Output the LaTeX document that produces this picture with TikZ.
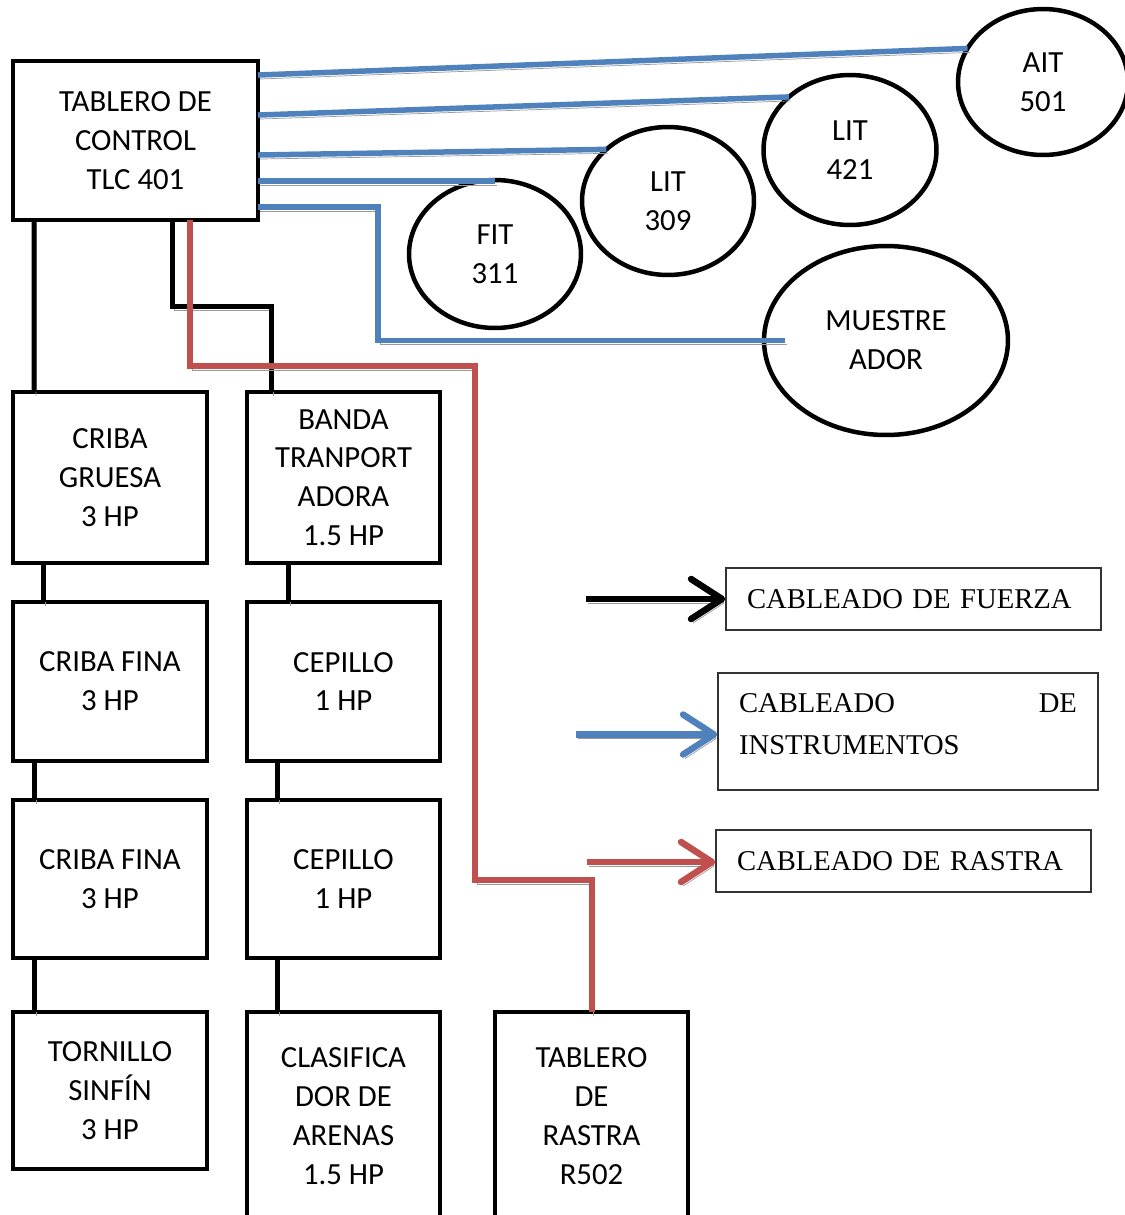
\documentclass[tikz,border=0pt]{standalone}
\usepackage{fontspec}
\setmainfont{Carlito}
\newfontfamily\legendfont{Liberation Serif}
\usetikzlibrary{shapes.geometric,calc,arrows.meta}
\definecolor{instblue}{HTML}{4F81BD}
\definecolor{rastrared}{HTML}{C0504D}
\definecolor{shadowgray}{HTML}{9A9A9A}

\begin{document}
\begin{tikzpicture}[x=0.02cm, y=-0.02cm,
    box/.style={draw, line width=0.09cm, inner sep=0pt, outer sep=0pt, align=center,
        font=\fontsize{17.5}{22.1}\selectfont},
    instr/.style={ellipse, draw, line width=0.09cm, inner sep=0pt, outer sep=0pt, align=center,
        font=\fontsize{17.5}{22.1}\selectfont},
    legend/.style={draw=black!80, line width=0.03cm, inner xsep=0.42cm, inner ysep=0pt, align=left,
        font=\legendfont\fontsize{16.3}{23.8}\selectfont},
    shadowed/.style={preaction={draw=shadowgray, transform canvas={xshift=0.04cm, yshift=-0.08cm}}},
    fuerza/.style={shadowed, draw=black, line width=0.1cm},
    instrum/.style={shadowed, draw=instblue, line width=0.11cm},
    rastra/.style={shadowed, draw=rastrared, line width=0.12cm},
    legarrow/.style={line width=0.13cm, -{Straight Barb[length=0.62cm, width=0.8cm, round]}}]
    \useasboundingbox (0,0) rectangle (1125,1215);

    % tablero principal
    \node[box, minimum width=4.9cm, minimum height=3.18cm] (tlc) at (135.5,140.5) {TABLERO DE\\CONTROL\\TLC 401};

    % instrumentos
    \node[instr, minimum width=3.4cm, minimum height=2.92cm] (ait) at (1043,82) {AIT\\501};
    \node[instr, minimum width=3.46cm, minimum height=3cm] (lit421) at (850,150) {LIT\\421};
    \node[instr, minimum width=3.44cm, minimum height=2.96cm] (lit309) at (668,201) {LIT\\309};
    \node[instr, minimum width=3.44cm, minimum height=2.96cm] (fit) at (495,254) {FIT\\311};
    \node[instr, minimum width=4.88cm, minimum height=3.78cm] (mue) at (886,340.5) {MUESTRE\\ADOR};

    % motores
    \node[box, minimum width=3.88cm, minimum height=3.42cm] (cg) at (110,477.5) {CRIBA\\GRUESA\\3 HP};
    \node[box, minimum width=3.88cm, minimum height=3.18cm] (cf1) at (110,681.5) {CRIBA FINA\\3 HP};
    \node[box, minimum width=3.88cm, minimum height=3.16cm] (cf2) at (110,879) {CRIBA FINA\\3 HP};
    \node[box, minimum width=3.88cm, minimum height=3.14cm] (ts) at (110,1090.5) {TORNILLO\\SINF\'IN\\3 HP};
    \node[box, minimum width=3.86cm, minimum height=3.42cm] (banda) at (343.5,477.5) {BANDA\\TRANPORT\\ADORA\\1.5 HP};
    \node[box, minimum width=3.86cm, minimum height=3.18cm] (cep1) at (343.5,681.5) {CEPILLO\\1 HP};
    \node[box, minimum width=3.86cm, minimum height=3.16cm] (cep2) at (343.5,879) {CEPILLO\\1 HP};
    \node[box, minimum width=3.86cm, minimum height=4.16cm] (clas) at (343.5,1116) {CLASIFICA\\DOR DE\\ARENAS\\1.5 HP};
    \node[box, minimum width=3.86cm, minimum height=4.16cm] (trastra) at (591.5,1116) {TABLERO\\DE\\RASTRA\\R502};

    % cableado de fuerza
    \draw[fuerza] ($(tlc.south west)+(21,0)$) -- ($(cg.north west)+(21,0)$);
    \draw[fuerza] ($(tlc.south west)+(159,0)$) |- ($(banda.north west)+(24,-86)$) -- ($(banda.north west)+(24,0)$);
    \draw[fuerza] ($(cg.south west)+(30,0)$) -- ($(cf1.north west)+(30,0)$);
    \draw[fuerza] ($(cf1.south west)+(21,0)$) -- ($(cf2.north west)+(21,0)$);
    \draw[fuerza] ($(cf2.south west)+(21,0)$) -- ($(ts.north west)+(21,0)$);
    \draw[fuerza] ($(banda.south west)+(41,0)$) -- ($(cep1.north west)+(41,0)$);
    \draw[fuerza] ($(cep1.south west)+(30,0)$) -- ($(cep2.north west)+(30,0)$);
    \draw[fuerza] ($(cep2.south west)+(30,0)$) -- ($(clas.north west)+(30,0)$);

    % cableado de instrumentos
    \draw[instrum] ($(tlc.north east)+(0,14)$) -- (ait.156);
    \draw[instrum] ($(tlc.north east)+(0,54)$) -- (lit421.139);
    \draw[instrum] ($(tlc.north east)+(0,94)$) -- (lit309.140);
    \draw[instrum] ($(tlc.north east)+(0,120)$) coordinate (s) -- (fit.north |- s);
    \draw[instrum] ($(tlc.north east)+(0,146)$) -- ++(120,0) |- ($(mue.west)+(21,0)$);

    % cableado de rastra
    \draw[rastra] ($(tlc.south west)+(177,0)$) -- ++(0,146) -| ++(285,514) -| (trastra.north);

    % leyenda
    \node[legend, text width=6.66cm, minimum height=1.24cm] (lfuerza) at (913.5,599) {CABLEADO DE FUERZA};
    \node[legend, text width=6.76cm, minimum height=2.34cm] (linst) at (908,731.5) {CABLEADO \hfill DE\\INSTRUMENTOS\\[-0.54cm]\mbox{}};
    \node[legend, text width=6.66cm, minimum height=1.24cm] (lrastra) at (903.5,861) {CABLEADO DE RASTRA};

    \draw[fuerza, legarrow] ($(lfuerza.west)+(-139,0)$) -- (lfuerza.west);
    \draw[instrum, legarrow] ($(linst.west)+(-141,3)$) -- ($(linst.west)+(0,3)$);
    \draw[rastra, legarrow] ($(lrastra.west)+(-128,1)$) -- ($(lrastra.west)+(0,1)$);
\end{tikzpicture}
\end{document}
